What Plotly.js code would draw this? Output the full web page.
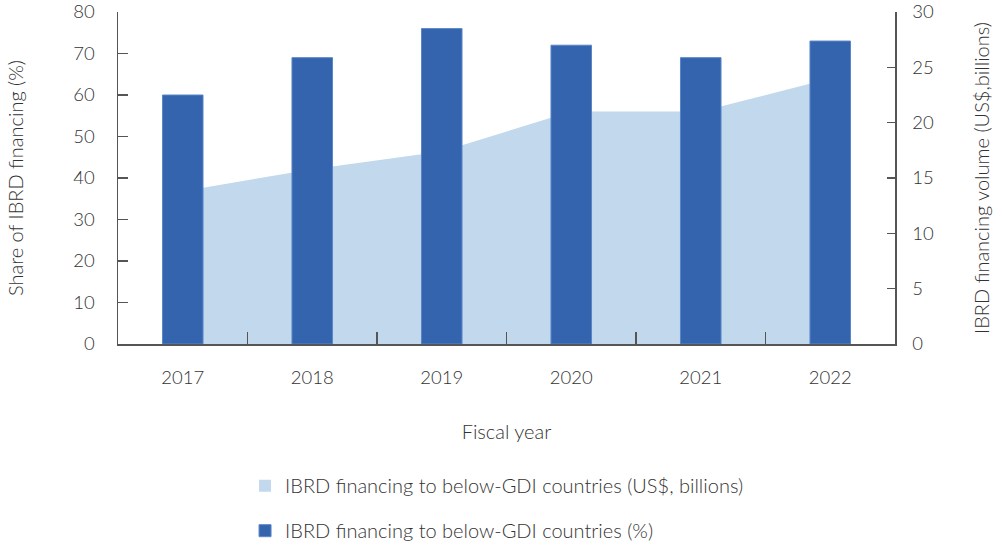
<!DOCTYPE html>
<html>
<head>
<meta charset="utf-8">
<script src="https://cdn.plot.ly/plotly-3.0.1.min.js"></script>
<style>html,body{margin:0;padding:0;background:#fff;}#chart{width:1002px;height:547px;}</style>
</head>
<body>
<div id="chart"></div>
<script>
const years = ['2017', '2018', '2019', '2020', '2021', '2022'];
const sharePct = [60, 69, 76, 72, 69, 73];
const volumeBn = [13.8, 15.8, 17.4, 21.0, 21.0, 24.0];
const seriesNames = ['IBRD financing to below-GDI countries (US$, billions)', 'IBRD financing to below-GDI countries (%)'];

const FONT = 'Lato, "Open Sans", sans-serif';
const TXT = '#333333';
const AREA = '#C2D8EC';
const BAR = '#3564AE';

const traces = [
  {
    type: 'scatter', x: years, y: volumeBn, yaxis: 'y', name: seriesNames[0],
    mode: 'none', fill: 'tozeroy', fillcolor: AREA, showlegend: false
  },
  {
    // legend entry for the area series (square swatch as in the reference)
    type: 'bar', x: [years[0]], y: [null], yaxis: 'y', name: seriesNames[0],
    marker: {color: AREA}, legendgroup: 'a', showlegend: true
  },
  {
    type: 'bar', x: years, y: sharePct, yaxis: 'y2', name: seriesNames[1],
    marker: {color: BAR, line: {color: '#5A86C8', width: 1}}, legendgroup: 'b'
  }
];

const layout = {
  width: 1002, height: 547,
  margin: {l: 118, r: 107, t: 12, b: 203, autoexpand: false},
  paper_bgcolor: '#fff', plot_bgcolor: '#fff',
  font: {family: FONT, size: 18, color: TXT, weight: 300},
  bargap: 0.687,
  barmode: 'overlay',
  showlegend: true,
  legend: {
    orientation: 'v',
    x: 0.1635, y: -0.368, xanchor: 'left', yanchor: 'top',
    font: {family: FONT, size: 20, color: TXT, weight: 300},
    tracegroupgap: 16, itemwidth: 30, bgcolor: 'rgba(0,0,0,0)'
  },
  xaxis: {
    type: 'category', showline: true, linecolor: '#555', linewidth: 1.5,
    ticks: 'inside', ticklen: 12, tickcolor: '#555', tickwidth: 1.2,
    tickson: 'boundaries', ticklabelstandoff: 16, tickangle: 0,
    tickfont: {size: 18.5, color: TXT, weight: 300},
    showgrid: false, zeroline: false,
    title: {text: 'Fiscal year', font: {size: 20, color: TXT, weight: 300}, standoff: 38}
  },
  yaxis: {
    side: 'right', range: [0, 30], dtick: 5, showline: true, linecolor: '#555', linewidth: 1.5,
    ticks: 'inside', ticklen: 8, tickcolor: '#555', tickwidth: 1.2, ticklabelstandoff: 12,
    showgrid: false, zeroline: false, tickfont: {size: 18.5, color: TXT, weight: 300},
    title: {text: 'IBRD financing volume (US$,billions)', font: {size: 20, color: TXT, weight: 300}, standoff: 42}
  },
  yaxis2: {
    side: 'left', overlaying: 'y', range: [0, 80], dtick: 10, showline: true, linecolor: '#555', linewidth: 1.5,
    ticks: 'inside', ticklen: 10, tickcolor: '#555', tickwidth: 1.2, ticklabelstandoff: 18,
    showgrid: false, zeroline: false, tickfont: {size: 18.5, color: TXT, weight: 300},
    title: {text: 'Share of IBRD financing (%)', font: {size: 20, color: TXT, weight: 300}, standoff: 44}
  }
};

Plotly.newPlot('chart', traces, layout, {displayModeBar: false, staticPlot: true});
</script>
</body>
</html>
